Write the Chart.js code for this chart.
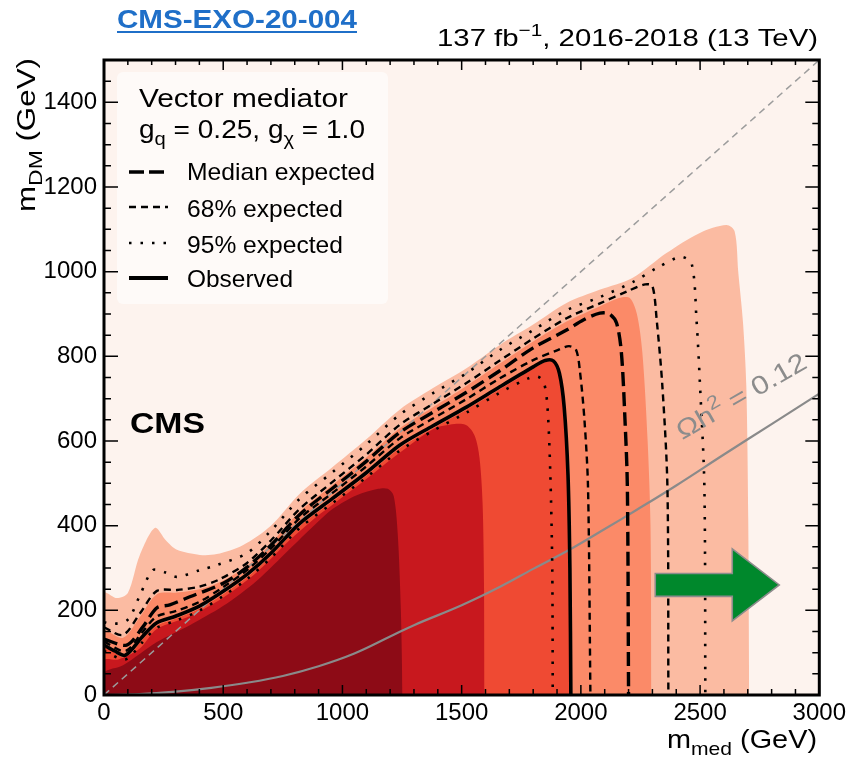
<!DOCTYPE html>
<html>
<head>
<meta charset="utf-8">
<title>Vector mediator exclusion</title>
<script src="https://cdn.jsdelivr.net/npm/chart.js@4.4.1/dist/chart.umd.min.js"></script>
<style>
  html, body { margin: 0; padding: 0; background: #ffffff; }
  #wrap { width: 850px; height: 761px; }
</style>
</head>
<body>
<div id="wrap"><canvas id="limitChart" width="850" height="761"></canvas></div>
<script>
// Axis ticks (GeV)
const xTicks = [0, 500, 1000, 1500, 2000, 2500, 3000];
const yTicks = [0, 200, 400, 600, 800, 1000, 1200, 1400];

// Observed exclusion contour
const obsX = [0, 45, 90, 160, 220, 300, 400, 500, 600, 700, 820, 960, 1100, 1240, 1380, 1520, 1660, 1800, 1850, 1885, 1910, 1930, 1946, 1954, 1958];
const obsY = [118, 104, 94, 137, 170, 186, 210, 245, 285, 335, 405, 465, 525, 590, 636, 680, 728, 775, 790, 789, 760, 680, 520, 300, 0];

// Expected contours: median, +-1 sigma, +-2 sigma
const expX = [0, 95, 163, 222, 276, 360, 500, 600, 700, 820, 960, 1100, 1240, 1380, 1520, 1660, 1800, 1940, 2010, 2080, 2120, 2150, 2170, 2185, 2195, 2200];
const expY = [132, 118, 161, 206, 213, 232, 264, 302, 354, 426, 489, 552, 620, 668, 715, 766, 820, 862, 886, 902, 900, 878, 808, 650, 490, 0];

const exp68dnX = [0, 90, 160, 220, 300, 400, 500, 600, 700, 820, 960, 1100, 1240, 1380, 1520, 1660, 1800, 1900, 1950, 1980, 1996, 2015, 2030, 2040];
const exp68dnY = [126, 104, 148, 185, 198, 220, 255, 295, 346, 417, 478, 540, 606, 653, 699, 748, 791, 814, 824, 815, 765, 650, 490, 0];

const exp68upX = [0, 80, 151, 222, 306, 400, 480, 600, 700, 820, 960, 1100, 1240, 1380, 1520, 1660, 1800, 1940, 2080, 2200, 2270, 2300, 2318, 2342, 2363, 2367];
const exp68upY = [160, 142, 193, 246, 248, 256, 272, 312, 365, 439, 504, 568, 638, 688, 737, 790, 842, 890, 925, 955, 970, 966, 886, 728, 491, 0];

const exp95dnX = [0, 90, 160, 220, 300, 400, 500, 600, 700, 820, 960, 1100, 1240, 1380, 1520, 1660, 1780, 1820, 1845, 1860, 1872, 1880, 1882];
const exp95dnY = [104, 84, 124, 158, 175, 199, 234, 274, 324, 394, 454, 514, 577, 624, 667, 714, 748, 752, 738, 680, 520, 300, 0];

const exp95upX = [0, 40, 100, 151, 205, 255, 306, 402, 473, 600, 700, 820, 960, 1100, 1240, 1380, 1520, 1660, 1800, 1940, 2080, 2220, 2320, 2420, 2465, 2485, 2500, 2518, 2522];
const exp95upY = [172, 168, 178, 236, 295, 290, 279, 295, 307, 335, 388, 463, 527, 592, 662, 713, 760, 815, 862, 909, 940, 976, 1009, 1035, 1018, 886, 728, 491, 0];

// Coloured bands of the upper limit, outermost first
const lightX = [0, 0, 54, 100, 150, 214, 260, 306, 402, 473, 582, 700, 820, 960, 1100, 1240, 1380, 1520, 1660, 1800, 1940, 2078, 2216, 2359, 2497, 2610, 2645, 2660, 2680, 2694, 2702, 2706];
const lightY = [0, 241, 229, 241, 330, 395, 365, 343, 331, 333, 354, 400, 475, 539, 604, 674, 725, 772, 827, 875, 926, 957, 985, 1044, 1091, 1110, 1095, 1000, 880, 728, 413, 0];

const salmonX = [0, 0, 80, 151, 222, 306, 400, 480, 600, 700, 820, 960, 1100, 1240, 1380, 1520, 1660, 1800, 1940, 2078, 2160, 2205, 2235, 2258, 2280, 2292, 2296];
const salmonY = [0, 150, 135, 185, 238, 242, 250, 265, 305, 358, 432, 497, 561, 630, 680, 730, 783, 835, 882, 918, 938, 938, 900, 808, 600, 400, 0];

const orangeX = [0, 0, 90, 160, 220, 300, 400, 500, 600, 700, 820, 960, 1100, 1240, 1380, 1520, 1660, 1800, 1850, 1888, 1912, 1932, 1948, 1956, 1960];
const orangeY = [0, 112, 88, 130, 163, 180, 204, 238, 278, 328, 398, 458, 518, 583, 630, 674, 722, 770, 786, 787, 760, 680, 520, 300, 0];

const crimsonX = [0, 0, 60, 150, 222, 360, 499, 641, 779, 880, 960, 1100, 1240, 1380, 1470, 1520, 1555, 1575, 1588, 1594, 1596];
const crimsonY = [0, 82, 84, 110, 156, 186, 230, 290, 366, 416, 450, 510, 572, 628, 640, 637, 612, 560, 450, 250, 0];

const darkX = [0, 0, 80, 222, 360, 499, 641, 779, 880, 960, 1060, 1150, 1190, 1215, 1232, 1245, 1252];
const darkY = [0, 52, 70, 125, 165, 210, 270, 345, 400, 440, 472, 487, 487, 470, 380, 200, 0];

// Relic density line, Omega h^2 = 0.12
const relicX = [0, 150, 300, 450, 600, 750, 900, 1050, 1200, 1300, 1500, 1659, 1800, 1952, 2100, 2233, 2400, 2600, 2800, 3000];
const relicY = [0, 2, 8, 17, 29, 45, 68, 98, 138, 165, 212, 255, 298, 343, 392, 437, 495, 568, 640, 712];

// m_DM = m_med / 2
const diagX = [0, 3000];
const diagY = [0, 1500];

// Arrow pointing to larger mediator masses, in GeV
const arrowStart = 2312, arrowNeck = 2635, arrowTip = 2832, arrowY = 260;
const arrowShaft = 27, arrowHead = 85;
const relicLabelAt = { x: 2425, y: 602 };

const FONT = "'Liberation Sans', Arial, Helvetica, sans-serif";

function pts(xs, ys) {
    return xs.map((x, i) => ({ x: x, y: ys[i] }));
}

function band(label, xs, ys, color) {
    return {
        label: label,
        data: pts(xs, ys),
        showLine: true,
        fill: 'origin',
        backgroundColor: color,
        borderColor: 'rgba(0,0,0,0)',
        borderWidth: 0,
        pointRadius: 0,
        tension: 0.3
    };
}

function contour(label, xs, ys, color, width, dash, tension) {
    return {
        label: label,
        data: pts(xs, ys),
        showLine: true,
        fill: false,
        borderColor: color,
        borderWidth: width,
        borderDash: dash,
        pointRadius: 0,
        tension: tension === undefined ? 0.3 : tension
    };
}

// Draw text made of parts with sub/superscripts, stretched to a given width
function drawRich(ctx, parts, x, y, opt) {
    const size = opt.size;
    const weight = opt.weight || 'normal';
    const fontFor = p => weight + ' ' + ((p.sub || p.sup) ? Math.round(size * 0.72) : size) + 'px ' + FONT;
    let w = 0;
    parts.forEach(p => {
        ctx.font = fontFor(p);
        p.w = ctx.measureText(p.t).width;
        w += p.w;
    });
    const sx = opt.width ? opt.width / w : 1;
    const total = w * sx;
    ctx.save();
    ctx.translate(x, y);
    if (opt.rotate) ctx.rotate(opt.rotate);
    let start = 0;
    if (opt.align === 'right') start = -total;
    if (opt.align === 'center') start = -total / 2;
    ctx.translate(start, 0);
    ctx.scale(sx, 1);
    ctx.fillStyle = opt.color || '#000000';
    ctx.textAlign = 'left';
    ctx.textBaseline = 'alphabetic';
    let cx = 0;
    parts.forEach(p => {
        ctx.font = fontFor(p);
        const dy = p.sub ? size * 0.28 : (p.sup ? -size * 0.42 : 0);
        ctx.fillText(p.t, cx, dy);
        cx += p.w;
    });
    ctx.restore();
    return total;
}

function legendSample(ctx, x1, x2, y, width, dash) {
    ctx.save();
    ctx.strokeStyle = '#000000';
    ctx.lineWidth = width;
    ctx.setLineDash(dash);
    ctx.beginPath();
    ctx.moveTo(x1, y);
    ctx.lineTo(x2, y);
    ctx.stroke();
    ctx.restore();
}

const decorations = {
    id: 'decorations',
    beforeDraw(chart) {
        const ctx = chart.ctx;
        const a = chart.chartArea;
        ctx.save();
        ctx.fillStyle = '#ffffff';
        ctx.fillRect(0, 0, chart.width, chart.height);
        ctx.fillStyle = '#fdf3ee';
        ctx.fillRect(a.left, a.top, a.right - a.left, a.bottom - a.top);
        ctx.restore();
    },
    afterDatasetsDraw(chart) {
        const ctx = chart.ctx;
        const a = chart.chartArea;
        const xs = chart.scales.x;
        const ys = chart.scales.y;

        // green arrow
        const px = v => xs.getPixelForValue(v);
        const py = v => ys.getPixelForValue(v);
        ctx.save();
        ctx.beginPath();
        ctx.moveTo(px(arrowStart), py(arrowY + arrowShaft));
        ctx.lineTo(px(arrowNeck), py(arrowY + arrowShaft));
        ctx.lineTo(px(arrowNeck), py(arrowY + arrowHead));
        ctx.lineTo(px(arrowTip), py(arrowY));
        ctx.lineTo(px(arrowNeck), py(arrowY - arrowHead));
        ctx.lineTo(px(arrowNeck), py(arrowY - arrowShaft));
        ctx.lineTo(px(arrowStart), py(arrowY - arrowShaft));
        ctx.closePath();
        ctx.fillStyle = '#00882c';
        ctx.fill();
        ctx.strokeStyle = '#8c8c8c';
        ctx.lineWidth = 1.6;
        ctx.stroke();
        ctx.restore();

        // relic density label
        drawRich(ctx, [{ t: '\u03A9h' }, { t: '2', sup: true }, { t: ' = 0.12' }],
            px(relicLabelAt.x), py(relicLabelAt.y),
            { size: 26, width: 146, rotate: -30 * Math.PI / 180, color: '#8c8c8c' });

        // CMS label
        drawRich(ctx, [{ t: 'CMS' }], 130, 433, { size: 29, width: 75, weight: 'bold' });

        // legend box
        ctx.save();
        ctx.fillStyle = 'rgba(255,255,255,0.6)';
        ctx.beginPath();
        ctx.roundRect(117, 72, 271, 232, 6);
        ctx.fill();
        ctx.restore();
        drawRich(ctx, [{ t: 'Vector mediator' }], 139, 107, { size: 25, width: 209 });
        drawRich(ctx, [{ t: 'g' }, { t: 'q', sub: true }, { t: ' = 0.25, g' }, { t: '\u03C7', sub: true }, { t: ' = 1.0' }],
            139, 138, { size: 25, width: 226 });
        legendSample(ctx, 129, 168, 172, 3.5, [15, 5]);
        legendSample(ctx, 129, 168, 207, 2.4, [7, 5]);
        legendSample(ctx, 129, 168, 243, 2.6, [2.5, 9]);
        legendSample(ctx, 129, 168, 278, 3.8, []);
        drawRich(ctx, [{ t: 'Median expected' }], 187, 180, { size: 24, width: 188 });
        drawRich(ctx, [{ t: '68% expected' }], 187, 217, { size: 24, width: 156 });
        drawRich(ctx, [{ t: '95% expected' }], 187, 253, { size: 24, width: 156 });
        drawRich(ctx, [{ t: 'Observed' }], 187, 287, { size: 24, width: 106 });

        // inward ticks on all four sides
        ctx.save();
        ctx.strokeStyle = '#000000';
        ctx.lineWidth = 1.5;
        ctx.beginPath();
        for (let v = 0; v <= 3000; v += 100) {
            const x = xs.getPixelForValue(v);
            const major = v % 500 === 0;
            ctx.moveTo(x, a.bottom);
            ctx.lineTo(x, a.bottom - (major ? 10 : 6));
            ctx.moveTo(x, a.top);
            ctx.lineTo(x, a.top + (major ? 10 : 5));
        }
        for (let v = 0; v <= 1500; v += 50) {
            const y = ys.getPixelForValue(v);
            const major = v % 200 === 0;
            ctx.moveTo(a.left, y);
            ctx.lineTo(a.left + (major ? 14 : 7), y);
            ctx.moveTo(a.right, y);
            ctx.lineTo(a.right - (major ? 14 : 7), y);
        }
        ctx.stroke();

        // frame
        ctx.lineWidth = 3;
        ctx.strokeRect(a.left, a.top, a.right - a.left, a.bottom - a.top);
        ctx.restore();
    },
    afterDraw(chart) {
        const ctx = chart.ctx;
        // report label
        const w = drawRich(ctx, [{ t: 'CMS-EXO-20-004' }], 117, 28,
            { size: 25, width: 240, weight: 'bold', color: '#1f6fc8' });
        ctx.save();
        ctx.strokeStyle = '#1f6fc8';
        ctx.lineWidth = 2;
        ctx.beginPath();
        ctx.moveTo(117, 32);
        ctx.lineTo(117 + w, 32);
        ctx.stroke();
        ctx.restore();

        // luminosity
        drawRich(ctx, [{ t: '137 fb' }, { t: '\u22121', sup: true }, { t: ', 2016-2018 (13 TeV)' }],
            818, 46, { size: 24, width: 381, align: 'right' });

        // axis titles
        drawRich(ctx, [{ t: 'm' }, { t: 'med', sub: true }, { t: ' (GeV)' }],
            817, 748, { size: 26, width: 150, align: 'right' });
        drawRich(ctx, [{ t: 'm' }, { t: 'DM', sub: true }, { t: ' (GeV)' }],
            35, 58, { size: 26, width: 154, align: 'right', rotate: -Math.PI / 2 });
    }
};

const datasets = [
    contour('Observed', obsX, obsY, '#000000', 3.6, []),
    contour('Expected -2 sigma', exp95dnX, exp95dnY, '#000000', 2.6, [2.5, 9]),
    contour('Expected -1 sigma', exp68dnX, exp68dnY, '#000000', 2.4, [7, 5]),
    contour('Median expected', expX, expY, '#000000', 3.4, [14, 6]),
    contour('Expected +1 sigma', exp68upX, exp68upY, '#000000', 2.4, [7, 5]),
    contour('Expected +2 sigma', exp95upX, exp95upY, '#000000', 2.6, [2.5, 9]),
    contour('Relic density', relicX, relicY, '#8a8a8a', 2.2, [], 0.4),
    contour('m_DM = m_med/2', diagX, diagY, '#9c9c9c', 1.5, [7, 5]),
    band('dark', darkX, darkY, '#8d0b16'),
    band('crimson', crimsonX, crimsonY, '#c8181e'),
    band('orange', orangeX, orangeY, '#ef4a33'),
    band('salmon', salmonX, salmonY, '#fb8a68'),
    band('light', lightX, lightY, '#fbbba2')
];

new Chart(document.getElementById('limitChart').getContext('2d'), {
    type: 'scatter',
    data: { datasets: datasets },
    options: {
        responsive: false,
        animation: false,
        events: [],
        layout: { padding: { top: 60, right: 30, bottom: 0, left: 0 } },
        plugins: {
            legend: { display: false },
            tooltip: { enabled: false }
        },
        scales: {
            x: {
                type: 'linear',
                min: 0,
                max: 3000,
                grid: { display: false, drawTicks: false },
                border: { display: false },
                afterBuildTicks: scale => { scale.ticks = xTicks.map(v => ({ value: v })); },
                afterFit: scale => { scale.height = 66; },
                ticks: {
                    padding: 4,
                    maxRotation: 0,
                    color: '#000000',
                    font: { family: FONT, size: 24 },
                    callback: v => String(v)
                }
            },
            y: {
                type: 'linear',
                min: 0,
                max: 1500,
                grid: { display: false, drawTicks: false },
                border: { display: false },
                afterBuildTicks: scale => { scale.ticks = yTicks.map(v => ({ value: v })); },
                afterFit: scale => { scale.width = 104; },
                ticks: {
                    padding: 7,
                    color: '#000000',
                    font: { family: FONT, size: 24 },
                    callback: v => String(v)
                }
            }
        }
    },
    plugins: [decorations]
});
</script>
</body>
</html>
